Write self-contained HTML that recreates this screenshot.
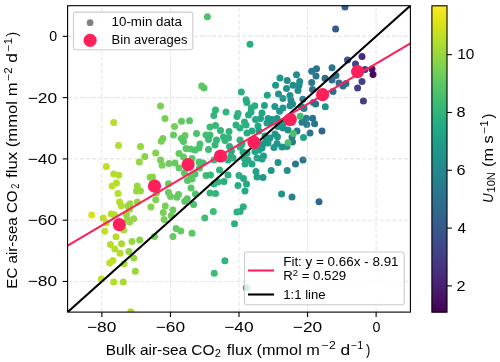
<!DOCTYPE html><html><head><meta charset="utf-8"><style>html,body{margin:0;padding:0;background:#fff;}svg{display:block;will-change:transform;}text{font-family:"Liberation Sans",sans-serif;fill:#000;}</style></head><body>
<svg width="500" height="362" viewBox="0 0 500 362">
<defs><clipPath id="ax"><rect x="67.60" y="5.70" width="342.80" height="306.40"/></clipPath>
<linearGradient id="vg" x1="0" y1="1" x2="0" y2="0">
<stop offset="0.0000" stop-color="#440154"/>
<stop offset="0.0312" stop-color="#470d60"/>
<stop offset="0.0625" stop-color="#48186a"/>
<stop offset="0.0938" stop-color="#482374"/>
<stop offset="0.1250" stop-color="#472d7b"/>
<stop offset="0.1562" stop-color="#453781"/>
<stop offset="0.1875" stop-color="#424086"/>
<stop offset="0.2188" stop-color="#3e4989"/>
<stop offset="0.2500" stop-color="#3b528b"/>
<stop offset="0.2812" stop-color="#375b8d"/>
<stop offset="0.3125" stop-color="#33638d"/>
<stop offset="0.3438" stop-color="#2f6b8e"/>
<stop offset="0.3750" stop-color="#2c728e"/>
<stop offset="0.4062" stop-color="#297a8e"/>
<stop offset="0.4375" stop-color="#26828e"/>
<stop offset="0.4688" stop-color="#23898e"/>
<stop offset="0.5000" stop-color="#21918c"/>
<stop offset="0.5312" stop-color="#1f988b"/>
<stop offset="0.5625" stop-color="#1fa088"/>
<stop offset="0.5938" stop-color="#22a785"/>
<stop offset="0.6250" stop-color="#28ae80"/>
<stop offset="0.6562" stop-color="#32b67a"/>
<stop offset="0.6875" stop-color="#3fbc73"/>
<stop offset="0.7188" stop-color="#4ec36b"/>
<stop offset="0.7500" stop-color="#5ec962"/>
<stop offset="0.7812" stop-color="#70cf57"/>
<stop offset="0.8125" stop-color="#84d44b"/>
<stop offset="0.8438" stop-color="#98d83e"/>
<stop offset="0.8750" stop-color="#addc30"/>
<stop offset="0.9062" stop-color="#c2df23"/>
<stop offset="0.9375" stop-color="#d8e219"/>
<stop offset="0.9688" stop-color="#ece51b"/>
<stop offset="1.0000" stop-color="#fde725"/>
</linearGradient></defs>
<rect width="500" height="362" fill="#fff"/>
<g clip-path="url(#ax)">
<circle cx="207.4" cy="16.8" r="3.5" fill="#4cc26c"/>
<circle cx="250.0" cy="44.2" r="3.5" fill="#2ab07f"/>
<circle cx="335.6" cy="29.0" r="3.5" fill="#375a8c"/>
<circle cx="345.0" cy="7.0" r="3.5" fill="#355f8d"/>
<circle cx="316.5" cy="68.8" r="3.5" fill="#2c738e"/>
<circle cx="311.7" cy="71.2" r="3.5" fill="#2a788e"/>
<circle cx="332.0" cy="67.8" r="3.5" fill="#2c738e"/>
<circle cx="362.0" cy="56.5" r="3.5" fill="#472a7a"/>
<circle cx="347.5" cy="60.0" r="3.5" fill="#3b528b"/>
<circle cx="355.5" cy="64.0" r="3.5" fill="#414487"/>
<circle cx="372.0" cy="69.0" r="3.5" fill="#471365"/>
<circle cx="365.0" cy="69.5" r="3.5" fill="#433e85"/>
<circle cx="373.0" cy="74.5" r="3.5" fill="#46085c"/>
<circle cx="325.0" cy="78.3" r="3.5" fill="#2f6c8e"/>
<circle cx="336.0" cy="75.5" r="3.5" fill="#2f6c8e"/>
<circle cx="332.0" cy="80.0" r="3.5" fill="#2f6c8e"/>
<circle cx="339.0" cy="83.0" r="3.5" fill="#2f6c8e"/>
<circle cx="346.0" cy="83.5" r="3.5" fill="#2f6c8e"/>
<circle cx="343.0" cy="86.0" r="3.5" fill="#2f6c8e"/>
<circle cx="362.0" cy="81.5" r="3.5" fill="#414487"/>
<circle cx="357.6" cy="88.0" r="3.5" fill="#433e85"/>
<circle cx="333.0" cy="91.6" r="3.5" fill="#2f6c8e"/>
<circle cx="363.4" cy="101.0" r="3.5" fill="#433e85"/>
<circle cx="316.0" cy="76.0" r="3.5" fill="#2c738e"/>
<circle cx="296.5" cy="74.7" r="3.5" fill="#228d8d"/>
<circle cx="280.0" cy="78.0" r="3.5" fill="#1f988b"/>
<circle cx="287.2" cy="80.4" r="3.5" fill="#228d8d"/>
<circle cx="299.7" cy="81.6" r="3.5" fill="#228d8d"/>
<circle cx="275.6" cy="85.3" r="3.5" fill="#1f988b"/>
<circle cx="293.0" cy="85.3" r="3.5" fill="#228d8d"/>
<circle cx="286.5" cy="88.4" r="3.5" fill="#20938c"/>
<circle cx="299.0" cy="85.6" r="3.5" fill="#228d8d"/>
<circle cx="298.0" cy="90.4" r="3.5" fill="#228d8d"/>
<circle cx="311.7" cy="82.4" r="3.5" fill="#2a788e"/>
<circle cx="312.5" cy="89.6" r="3.5" fill="#2c738e"/>
<circle cx="267.3" cy="95.3" r="3.5" fill="#20a486"/>
<circle cx="278.5" cy="94.0" r="3.5" fill="#1f988b"/>
<circle cx="282.9" cy="98.5" r="3.5" fill="#1f988b"/>
<circle cx="290.0" cy="95.6" r="3.5" fill="#228d8d"/>
<circle cx="290.9" cy="100.0" r="3.5" fill="#228d8d"/>
<circle cx="302.9" cy="99.3" r="3.5" fill="#287d8e"/>
<circle cx="313.3" cy="102.5" r="3.5" fill="#2c738e"/>
<circle cx="315.7" cy="104.0" r="3.5" fill="#2c738e"/>
<circle cx="325.3" cy="106.8" r="3.5" fill="#20928c"/>
<circle cx="254.8" cy="105.7" r="3.5" fill="#2ab07f"/>
<circle cx="264.4" cy="105.4" r="3.5" fill="#20a486"/>
<circle cx="274.8" cy="106.5" r="3.5" fill="#1f988b"/>
<circle cx="282.9" cy="108.0" r="3.5" fill="#1f988b"/>
<circle cx="279.6" cy="111.3" r="3.5" fill="#1f988b"/>
<circle cx="290.0" cy="105.7" r="3.5" fill="#228d8d"/>
<circle cx="292.5" cy="104.0" r="3.5" fill="#228d8d"/>
<circle cx="251.3" cy="108.0" r="3.5" fill="#2ab07f"/>
<circle cx="262.0" cy="113.0" r="3.5" fill="#20a486"/>
<circle cx="301.3" cy="106.5" r="3.5" fill="#228d8d"/>
<circle cx="201.7" cy="86.0" r="3.5" fill="#58c765"/>
<circle cx="204.0" cy="88.1" r="3.5" fill="#58c765"/>
<circle cx="241.3" cy="92.1" r="3.5" fill="#2ab07f"/>
<circle cx="246.1" cy="99.7" r="3.5" fill="#25ac82"/>
<circle cx="246.9" cy="102.5" r="3.5" fill="#25ac82"/>
<circle cx="215.5" cy="110.0" r="3.5" fill="#31b57b"/>
<circle cx="213.8" cy="115.5" r="3.5" fill="#31b57b"/>
<circle cx="181.5" cy="121.2" r="3.5" fill="#63cb5f"/>
<circle cx="189.5" cy="120.8" r="3.5" fill="#58c765"/>
<circle cx="174.5" cy="126.5" r="3.5" fill="#75d054"/>
<circle cx="173.5" cy="134.9" r="3.5" fill="#63cb5f"/>
<circle cx="185.0" cy="135.4" r="3.5" fill="#63cb5f"/>
<circle cx="196.5" cy="133.4" r="3.5" fill="#4cc26c"/>
<circle cx="226.0" cy="112.0" r="3.5" fill="#31b57b"/>
<circle cx="238.0" cy="113.5" r="3.5" fill="#2ab07f"/>
<circle cx="237.0" cy="116.5" r="3.5" fill="#2ab07f"/>
<circle cx="251.0" cy="112.0" r="3.5" fill="#25ac82"/>
<circle cx="248.5" cy="115.0" r="3.5" fill="#25ac82"/>
<circle cx="260.5" cy="118.5" r="3.5" fill="#20a486"/>
<circle cx="255.5" cy="119.5" r="3.5" fill="#23a983"/>
<circle cx="268.0" cy="118.5" r="3.5" fill="#1f9e89"/>
<circle cx="236.0" cy="125.0" r="3.5" fill="#2ab07f"/>
<circle cx="244.5" cy="122.0" r="3.5" fill="#2ab07f"/>
<circle cx="246.0" cy="125.0" r="3.5" fill="#2ab07f"/>
<circle cx="240.0" cy="128.0" r="3.5" fill="#2ab07f"/>
<circle cx="258.0" cy="126.0" r="3.5" fill="#23a983"/>
<circle cx="252.0" cy="131.0" r="3.5" fill="#23a983"/>
<circle cx="247.0" cy="133.0" r="3.5" fill="#25ac82"/>
<circle cx="267.0" cy="123.0" r="3.5" fill="#1f9e89"/>
<circle cx="304.0" cy="108.5" r="3.5" fill="#287d8e"/>
<circle cx="272.0" cy="119.5" r="3.5" fill="#1f988b"/>
<circle cx="277.0" cy="118.5" r="3.5" fill="#1f988b"/>
<circle cx="271.0" cy="122.5" r="3.5" fill="#1f988b"/>
<circle cx="278.0" cy="126.5" r="3.5" fill="#20938c"/>
<circle cx="283.0" cy="128.0" r="3.5" fill="#20938c"/>
<circle cx="283.0" cy="124.0" r="3.5" fill="#20938c"/>
<circle cx="288.0" cy="130.0" r="3.5" fill="#228d8d"/>
<circle cx="297.0" cy="131.0" r="3.5" fill="#2a788e"/>
<circle cx="310.0" cy="133.0" r="3.5" fill="#2c738e"/>
<circle cx="275.0" cy="134.0" r="3.5" fill="#1f988b"/>
<circle cx="322.0" cy="131.0" r="3.5" fill="#31678e"/>
<circle cx="113.7" cy="122.4" r="3.5" fill="#b5de2b"/>
<circle cx="160.5" cy="106.1" r="3.5" fill="#7ad151"/>
<circle cx="165.0" cy="118.4" r="3.5" fill="#75d054"/>
<circle cx="162.9" cy="138.5" r="3.5" fill="#75d054"/>
<circle cx="161.3" cy="141.3" r="3.5" fill="#75d054"/>
<circle cx="118.5" cy="145.4" r="3.5" fill="#b5de2b"/>
<circle cx="140.5" cy="146.5" r="3.5" fill="#95d840"/>
<circle cx="155.7" cy="152.9" r="3.5" fill="#81d34d"/>
<circle cx="144.8" cy="156.4" r="3.5" fill="#86d549"/>
<circle cx="160.5" cy="159.9" r="3.5" fill="#75d054"/>
<circle cx="139.4" cy="162.0" r="3.5" fill="#95d840"/>
<circle cx="162.1" cy="165.2" r="3.5" fill="#75d054"/>
<circle cx="106.3" cy="166.5" r="3.5" fill="#c2df23"/>
<circle cx="113.7" cy="174.0" r="3.5" fill="#b5de2b"/>
<circle cx="118.8" cy="175.3" r="3.5" fill="#b5de2b"/>
<circle cx="116.4" cy="182.9" r="3.5" fill="#b5de2b"/>
<circle cx="112.1" cy="186.1" r="3.5" fill="#bddf26"/>
<circle cx="150.1" cy="177.2" r="3.5" fill="#86d549"/>
<circle cx="152.5" cy="177.0" r="3.5" fill="#86d549"/>
<circle cx="137.3" cy="186.1" r="3.5" fill="#95d840"/>
<circle cx="136.5" cy="190.9" r="3.5" fill="#95d840"/>
<circle cx="140.5" cy="190.9" r="3.5" fill="#95d840"/>
<circle cx="118.0" cy="193.6" r="3.5" fill="#b5de2b"/>
<circle cx="156.5" cy="193.0" r="3.5" fill="#81d34d"/>
<circle cx="168.5" cy="183.7" r="3.5" fill="#63cb5f"/>
<circle cx="168.5" cy="192.5" r="3.5" fill="#63cb5f"/>
<circle cx="119.6" cy="202.1" r="3.5" fill="#b5de2b"/>
<circle cx="121.3" cy="205.8" r="3.5" fill="#b5de2b"/>
<circle cx="130.0" cy="203.7" r="3.5" fill="#95d840"/>
<circle cx="137.3" cy="202.1" r="3.5" fill="#95d840"/>
<circle cx="155.7" cy="199.7" r="3.5" fill="#81d34d"/>
<circle cx="150.9" cy="206.9" r="3.5" fill="#86d549"/>
<circle cx="165.3" cy="206.1" r="3.5" fill="#75d054"/>
<circle cx="181.5" cy="138.5" r="3.5" fill="#58c765"/>
<circle cx="183.5" cy="141.5" r="3.5" fill="#58c765"/>
<circle cx="200.0" cy="144.0" r="3.5" fill="#4cc26c"/>
<circle cx="186.0" cy="148.5" r="3.5" fill="#58c765"/>
<circle cx="190.5" cy="149.0" r="3.5" fill="#58c765"/>
<circle cx="195.0" cy="150.0" r="3.5" fill="#4cc26c"/>
<circle cx="199.0" cy="148.0" r="3.5" fill="#4cc26c"/>
<circle cx="179.0" cy="153.5" r="3.5" fill="#63cb5f"/>
<circle cx="183.5" cy="157.0" r="3.5" fill="#63cb5f"/>
<circle cx="192.0" cy="158.5" r="3.5" fill="#58c765"/>
<circle cx="169.0" cy="163.5" r="3.5" fill="#69cd5b"/>
<circle cx="175.0" cy="163.0" r="3.5" fill="#63cb5f"/>
<circle cx="199.0" cy="162.0" r="3.5" fill="#4cc26c"/>
<circle cx="203.0" cy="163.0" r="3.5" fill="#46c06f"/>
<circle cx="214.0" cy="160.0" r="3.5" fill="#38b977"/>
<circle cx="259.0" cy="131.0" r="3.5" fill="#20a486"/>
<circle cx="240.0" cy="140.0" r="3.5" fill="#2ab07f"/>
<circle cx="242.0" cy="144.0" r="3.5" fill="#2ab07f"/>
<circle cx="240.0" cy="147.0" r="3.5" fill="#2ab07f"/>
<circle cx="231.5" cy="151.0" r="3.5" fill="#2ab07f"/>
<circle cx="231.0" cy="156.0" r="3.5" fill="#2ab07f"/>
<circle cx="233.0" cy="158.0" r="3.5" fill="#2ab07f"/>
<circle cx="228.0" cy="160.0" r="3.5" fill="#2ab07f"/>
<circle cx="243.0" cy="152.0" r="3.5" fill="#25ac82"/>
<circle cx="247.0" cy="153.0" r="3.5" fill="#25ac82"/>
<circle cx="255.0" cy="151.5" r="3.5" fill="#20a486"/>
<circle cx="259.0" cy="150.0" r="3.5" fill="#20a486"/>
<circle cx="262.0" cy="148.0" r="3.5" fill="#1f988b"/>
<circle cx="263.0" cy="144.0" r="3.5" fill="#1f988b"/>
<circle cx="244.0" cy="158.0" r="3.5" fill="#25ac82"/>
<circle cx="248.0" cy="160.0" r="3.5" fill="#25ac82"/>
<circle cx="257.0" cy="158.0" r="3.5" fill="#20a486"/>
<circle cx="262.0" cy="159.0" r="3.5" fill="#1f9e89"/>
<circle cx="252.0" cy="164.0" r="3.5" fill="#22a785"/>
<circle cx="245.0" cy="164.0" r="3.5" fill="#25ac82"/>
<circle cx="303.5" cy="137.5" r="3.5" fill="#20a486"/>
<circle cx="270.0" cy="138.0" r="3.5" fill="#1f988b"/>
<circle cx="265.0" cy="136.0" r="3.5" fill="#1f9e89"/>
<circle cx="268.0" cy="143.0" r="3.5" fill="#1f988b"/>
<circle cx="277.0" cy="143.5" r="3.5" fill="#1f988b"/>
<circle cx="274.0" cy="147.5" r="3.5" fill="#1f988b"/>
<circle cx="282.0" cy="147.0" r="3.5" fill="#20938c"/>
<circle cx="287.0" cy="146.5" r="3.5" fill="#20928c"/>
<circle cx="292.5" cy="142.0" r="3.5" fill="#287d8e"/>
<circle cx="292.0" cy="137.0" r="3.5" fill="#287d8e"/>
<circle cx="263.5" cy="156.0" r="3.5" fill="#1f9e89"/>
<circle cx="303.0" cy="160.0" r="3.5" fill="#2c738e"/>
<circle cx="278.0" cy="162.5" r="3.5" fill="#20938c"/>
<circle cx="295.5" cy="164.0" r="3.5" fill="#2a788e"/>
<circle cx="219.5" cy="170.0" r="3.5" fill="#31b57b"/>
<circle cx="228.0" cy="175.0" r="3.5" fill="#2ab07f"/>
<circle cx="218.0" cy="182.0" r="3.5" fill="#31b57b"/>
<circle cx="224.0" cy="181.5" r="3.5" fill="#2ab07f"/>
<circle cx="215.5" cy="193.5" r="3.5" fill="#31b57b"/>
<circle cx="239.0" cy="175.5" r="3.5" fill="#25ac82"/>
<circle cx="243.5" cy="178.5" r="3.5" fill="#25ac82"/>
<circle cx="246.5" cy="184.0" r="3.5" fill="#23a983"/>
<circle cx="238.0" cy="185.5" r="3.5" fill="#25ac82"/>
<circle cx="245.0" cy="191.0" r="3.5" fill="#23a983"/>
<circle cx="256.0" cy="171.5" r="3.5" fill="#20a486"/>
<circle cx="257.0" cy="177.0" r="3.5" fill="#1fa088"/>
<circle cx="263.0" cy="177.5" r="3.5" fill="#1f988b"/>
<circle cx="179.0" cy="168.0" r="3.5" fill="#63cb5f"/>
<circle cx="184.5" cy="173.0" r="3.5" fill="#58c765"/>
<circle cx="199.5" cy="168.0" r="3.5" fill="#4cc26c"/>
<circle cx="195.0" cy="174.0" r="3.5" fill="#4cc26c"/>
<circle cx="191.0" cy="176.0" r="3.5" fill="#58c765"/>
<circle cx="187.5" cy="180.5" r="3.5" fill="#58c765"/>
<circle cx="192.0" cy="179.0" r="3.5" fill="#58c765"/>
<circle cx="206.0" cy="175.5" r="3.5" fill="#3dbc74"/>
<circle cx="210.5" cy="175.0" r="3.5" fill="#38b977"/>
<circle cx="191.0" cy="188.0" r="3.5" fill="#58c765"/>
<circle cx="178.5" cy="194.5" r="3.5" fill="#63cb5f"/>
<circle cx="195.5" cy="194.0" r="3.5" fill="#4cc26c"/>
<circle cx="210.0" cy="193.0" r="3.5" fill="#35b779"/>
<circle cx="214.0" cy="184.0" r="3.5" fill="#31b57b"/>
<circle cx="271.2" cy="170.4" r="3.5" fill="#1f988b"/>
<circle cx="287.2" cy="170.4" r="3.5" fill="#228d8d"/>
<circle cx="281.6" cy="194.1" r="3.5" fill="#20938c"/>
<circle cx="292.0" cy="196.9" r="3.5" fill="#27808e"/>
<circle cx="319.0" cy="201.7" r="3.5" fill="#31678e"/>
<circle cx="187.2" cy="198.8" r="3.5" fill="#58c765"/>
<circle cx="184.8" cy="201.2" r="3.5" fill="#58c765"/>
<circle cx="193.6" cy="204.4" r="3.5" fill="#4cc26c"/>
<circle cx="213.3" cy="211.6" r="3.5" fill="#3dbc74"/>
<circle cx="204.8" cy="218.0" r="3.5" fill="#40bd72"/>
<circle cx="243.3" cy="206.8" r="3.5" fill="#2ab07f"/>
<circle cx="236.9" cy="212.1" r="3.5" fill="#2ab07f"/>
<circle cx="240.1" cy="211.6" r="3.5" fill="#2ab07f"/>
<circle cx="234.5" cy="223.7" r="3.5" fill="#2ab07f"/>
<circle cx="180.8" cy="230.9" r="3.5" fill="#63cb5f"/>
<circle cx="192.0" cy="233.3" r="3.5" fill="#58c765"/>
<circle cx="128.0" cy="206.0" r="3.5" fill="#95d840"/>
<circle cx="129.6" cy="209.2" r="3.5" fill="#95d840"/>
<circle cx="111.2" cy="214.0" r="3.5" fill="#b5de2b"/>
<circle cx="114.4" cy="214.8" r="3.5" fill="#b5de2b"/>
<circle cx="103.2" cy="218.0" r="3.5" fill="#c2df23"/>
<circle cx="106.4" cy="222.9" r="3.5" fill="#c2df23"/>
<circle cx="126.4" cy="214.8" r="3.5" fill="#95d840"/>
<circle cx="127.2" cy="219.6" r="3.5" fill="#95d840"/>
<circle cx="129.6" cy="222.0" r="3.5" fill="#95d840"/>
<circle cx="133.7" cy="218.8" r="3.5" fill="#95d840"/>
<circle cx="123.7" cy="230.0" r="3.5" fill="#a2da37"/>
<circle cx="104.8" cy="231.3" r="3.5" fill="#c2df23"/>
<circle cx="116.0" cy="236.8" r="3.5" fill="#b5de2b"/>
<circle cx="110.4" cy="244.5" r="3.5" fill="#b5de2b"/>
<circle cx="121.6" cy="243.7" r="3.5" fill="#a8db34"/>
<circle cx="132.0" cy="241.6" r="3.5" fill="#95d840"/>
<circle cx="139.7" cy="240.0" r="3.5" fill="#86d549"/>
<circle cx="154.5" cy="236.5" r="3.5" fill="#75d054"/>
<circle cx="170.5" cy="196.4" r="3.5" fill="#69cd5b"/>
<circle cx="176.9" cy="197.2" r="3.5" fill="#63cb5f"/>
<circle cx="163.3" cy="212.4" r="3.5" fill="#75d054"/>
<circle cx="164.1" cy="219.6" r="3.5" fill="#75d054"/>
<circle cx="172.9" cy="210.0" r="3.5" fill="#69cd5b"/>
<circle cx="171.3" cy="215.6" r="3.5" fill="#69cd5b"/>
<circle cx="176.1" cy="228.5" r="3.5" fill="#63cb5f"/>
<circle cx="172.9" cy="236.5" r="3.5" fill="#63cb5f"/>
<circle cx="91.7" cy="214.9" r="3.5" fill="#d8e219"/>
<circle cx="114.8" cy="248.9" r="3.5" fill="#b5de2b"/>
<circle cx="120.1" cy="253.2" r="3.5" fill="#b5de2b"/>
<circle cx="128.9" cy="251.6" r="3.5" fill="#95d840"/>
<circle cx="133.7" cy="258.0" r="3.5" fill="#95d840"/>
<circle cx="109.7" cy="262.9" r="3.5" fill="#bddf26"/>
<circle cx="112.9" cy="260.4" r="3.5" fill="#bddf26"/>
<circle cx="124.1" cy="263.7" r="3.5" fill="#a8db34"/>
<circle cx="135.3" cy="271.3" r="3.5" fill="#95d840"/>
<circle cx="101.3" cy="278.9" r="3.5" fill="#c2df23"/>
<circle cx="113.7" cy="282.1" r="3.5" fill="#b5de2b"/>
<circle cx="123.3" cy="282.1" r="3.5" fill="#a8db34"/>
<circle cx="130.8" cy="311.8" r="3.5" fill="#b5de2b"/>
<circle cx="214.2" cy="273.3" r="3.5" fill="#3dbc74"/>
<circle cx="224.9" cy="260.7" r="3.5" fill="#31b57b"/>
<circle cx="246.3" cy="287.8" r="3.5" fill="#20a486"/>
<circle cx="306.3" cy="118.3" r="3.5" fill="#287d8e"/>
<circle cx="301.9" cy="122.2" r="3.5" fill="#287d8e"/>
<circle cx="306.8" cy="124.4" r="3.5" fill="#287d8e"/>
<circle cx="312.6" cy="118.3" r="3.5" fill="#2c738e"/>
<circle cx="314.6" cy="123.8" r="3.5" fill="#2c738e"/>
<circle cx="277.5" cy="136.7" r="3.5" fill="#1f988b"/>
<circle cx="266.0" cy="141.5" r="3.5" fill="#1f988b"/>
<circle cx="210.0" cy="127.0" r="3.5" fill="#3dbc74"/>
<circle cx="215.5" cy="125.5" r="3.5" fill="#38b977"/>
<circle cx="220.5" cy="130.5" r="3.5" fill="#35b779"/>
<circle cx="229.0" cy="131.5" r="3.5" fill="#31b57b"/>
<circle cx="206.0" cy="135.0" r="3.5" fill="#40bd72"/>
<circle cx="210.0" cy="135.0" r="3.5" fill="#40bd72"/>
<circle cx="208.5" cy="139.5" r="3.5" fill="#3dbc74"/>
<circle cx="216.5" cy="140.0" r="3.5" fill="#35b779"/>
<circle cx="223.5" cy="137.0" r="3.5" fill="#31b57b"/>
<circle cx="228.5" cy="138.0" r="3.5" fill="#31b57b"/>
<circle cx="225.0" cy="140.5" r="3.5" fill="#31b57b"/>
<circle cx="215.0" cy="145.0" r="3.5" fill="#35b779"/>
<circle cx="208.5" cy="149.5" r="3.5" fill="#3dbc74"/>
<circle cx="229.5" cy="146.5" r="3.5" fill="#2ab07f"/>
<circle cx="293.3" cy="133.6" r="3.5" fill="#4cc26c"/>
<circle cx="288.0" cy="142.8" r="3.5" fill="#4cc26c"/>
<circle cx="300.2" cy="116.3" r="3.5" fill="#40bd72"/>
<line x1="101.88" y1="312.10" x2="101.88" y2="5.70" stroke="#b0b0b0" stroke-opacity="0.31" stroke-width="1.1" stroke-dasharray="4.28 1.85"/>
<line x1="67.60" y1="281.46" x2="410.40" y2="281.46" stroke="#b0b0b0" stroke-opacity="0.31" stroke-width="1.1" stroke-dasharray="4.2 1.8" stroke-dashoffset="-0.4"/>
<line x1="170.44" y1="312.10" x2="170.44" y2="5.70" stroke="#b0b0b0" stroke-opacity="0.31" stroke-width="1.1" stroke-dasharray="4.28 1.85"/>
<line x1="67.60" y1="220.18" x2="410.40" y2="220.18" stroke="#b0b0b0" stroke-opacity="0.31" stroke-width="1.1" stroke-dasharray="4.2 1.8" stroke-dashoffset="-0.4"/>
<line x1="239.00" y1="312.10" x2="239.00" y2="5.70" stroke="#b0b0b0" stroke-opacity="0.31" stroke-width="1.1" stroke-dasharray="4.28 1.85"/>
<line x1="67.60" y1="158.90" x2="410.40" y2="158.90" stroke="#b0b0b0" stroke-opacity="0.31" stroke-width="1.1" stroke-dasharray="4.2 1.8" stroke-dashoffset="-0.4"/>
<line x1="307.56" y1="312.10" x2="307.56" y2="5.70" stroke="#b0b0b0" stroke-opacity="0.31" stroke-width="1.1" stroke-dasharray="4.28 1.85"/>
<line x1="67.60" y1="97.62" x2="410.40" y2="97.62" stroke="#b0b0b0" stroke-opacity="0.31" stroke-width="1.1" stroke-dasharray="4.2 1.8" stroke-dashoffset="-0.4"/>
<line x1="376.12" y1="312.10" x2="376.12" y2="5.70" stroke="#b0b0b0" stroke-opacity="0.31" stroke-width="1.1" stroke-dasharray="4.28 1.85"/>
<line x1="67.60" y1="36.34" x2="410.40" y2="36.34" stroke="#b0b0b0" stroke-opacity="0.31" stroke-width="1.1" stroke-dasharray="4.2 1.8" stroke-dashoffset="-0.4"/>
<line x1="67.60" y1="312.10" x2="410.40" y2="5.70" stroke="#000" stroke-width="2.1"/>
<line x1="67.60" y1="245.64" x2="410.40" y2="43.42" stroke="#ff1f5b" stroke-width="2.1"/>
<circle cx="119.3" cy="224.6" r="6.6" fill="#ff1f5b"/>
<circle cx="154.5" cy="186.0" r="6.6" fill="#ff1f5b"/>
<circle cx="188.1" cy="164.7" r="6.6" fill="#ff1f5b"/>
<circle cx="220.5" cy="156.0" r="6.6" fill="#ff1f5b"/>
<circle cx="254.0" cy="142.3" r="6.6" fill="#ff1f5b"/>
<circle cx="290.3" cy="119.5" r="6.6" fill="#ff1f5b"/>
<circle cx="322.6" cy="94.7" r="6.6" fill="#ff1f5b"/>
<circle cx="357.6" cy="71.6" r="6.6" fill="#ff1f5b"/>
</g>
<rect x="67.60" y="5.70" width="342.80" height="306.40" fill="none" stroke="#000" stroke-width="1.1"/>
<line x1="101.88" y1="312.10" x2="101.88" y2="317.00" stroke="#000" stroke-width="1.1"/>
<line x1="62.70" y1="281.46" x2="67.60" y2="281.46" stroke="#000" stroke-width="1.1"/>
<line x1="170.44" y1="312.10" x2="170.44" y2="317.00" stroke="#000" stroke-width="1.1"/>
<line x1="62.70" y1="220.18" x2="67.60" y2="220.18" stroke="#000" stroke-width="1.1"/>
<line x1="239.00" y1="312.10" x2="239.00" y2="317.00" stroke="#000" stroke-width="1.1"/>
<line x1="62.70" y1="158.90" x2="67.60" y2="158.90" stroke="#000" stroke-width="1.1"/>
<line x1="307.56" y1="312.10" x2="307.56" y2="317.00" stroke="#000" stroke-width="1.1"/>
<line x1="62.70" y1="97.62" x2="67.60" y2="97.62" stroke="#000" stroke-width="1.1"/>
<line x1="376.12" y1="312.10" x2="376.12" y2="317.00" stroke="#000" stroke-width="1.1"/>
<line x1="62.70" y1="36.34" x2="67.60" y2="36.34" stroke="#000" stroke-width="1.1"/>
<text x="87.01" y="332.10" font-size="14.6" textLength="29.40" lengthAdjust="spacingAndGlyphs">−80</text>
<text x="27.71" y="286.41" font-size="14.6" textLength="29.40" lengthAdjust="spacingAndGlyphs">−80</text>
<text x="155.76" y="332.10" font-size="14.6" textLength="29.40" lengthAdjust="spacingAndGlyphs">−60</text>
<text x="27.71" y="225.13" font-size="14.6" textLength="29.40" lengthAdjust="spacingAndGlyphs">−60</text>
<text x="224.21" y="332.10" font-size="14.6" textLength="29.40" lengthAdjust="spacingAndGlyphs">−40</text>
<text x="27.71" y="163.85" font-size="14.6" textLength="29.40" lengthAdjust="spacingAndGlyphs">−40</text>
<text x="292.86" y="332.10" font-size="14.6" textLength="29.40" lengthAdjust="spacingAndGlyphs">−20</text>
<text x="27.71" y="102.57" font-size="14.6" textLength="29.40" lengthAdjust="spacingAndGlyphs">−20</text>
<text x="372.60" y="332.10" font-size="14.6" textLength="7.92" lengthAdjust="spacingAndGlyphs">0</text>
<text x="49.30" y="41.29" font-size="14.6" textLength="7.87" lengthAdjust="spacingAndGlyphs">0</text>
<text x="105.73" y="354.60" font-size="14.4" textLength="108.79" lengthAdjust="spacingAndGlyphs">Bulk air-sea CO</text>
<text x="214.80" y="357.40" font-size="10.2" textLength="6.13" lengthAdjust="spacingAndGlyphs">2</text>
<text x="226.80" y="354.60" font-size="14.4" textLength="93.01" lengthAdjust="spacingAndGlyphs">flux (mmol m</text>
<text x="321.80" y="349.30" font-size="10.2" textLength="13.95" lengthAdjust="spacingAndGlyphs">−2</text>
<text x="340.40" y="354.60" font-size="14.4" textLength="9.62" lengthAdjust="spacingAndGlyphs">d</text>
<text x="351.00" y="349.30" font-size="10.2" textLength="12.26" lengthAdjust="spacingAndGlyphs">−1</text>
<text x="365.90" y="354.60" font-size="14.4" textLength="4.32" lengthAdjust="spacingAndGlyphs">)</text>
<text transform="rotate(-90)" x="-288.65" y="17.30" font-size="14.4" textLength="98.24" lengthAdjust="spacingAndGlyphs">EC air-sea CO</text>
<text transform="rotate(-90)" x="-188.85" y="19.40" font-size="10.2" textLength="5.10" lengthAdjust="spacingAndGlyphs">2</text>
<text transform="rotate(-90)" x="-177.90" y="17.30" font-size="14.4" textLength="95.42" lengthAdjust="spacingAndGlyphs">flux (mmol m</text>
<text transform="rotate(-90)" x="-80.40" y="12.00" font-size="10.2" textLength="13.10" lengthAdjust="spacingAndGlyphs">−2</text>
<text transform="rotate(-90)" x="-62.65" y="17.30" font-size="14.4" textLength="9.62" lengthAdjust="spacingAndGlyphs">d</text>
<text transform="rotate(-90)" x="-51.40" y="12.00" font-size="10.2" textLength="13.63" lengthAdjust="spacingAndGlyphs">−1</text>
<text transform="rotate(-90)" x="-36.50" y="17.30" font-size="14.4" textLength="4.56" lengthAdjust="spacingAndGlyphs">)</text>
<text transform="rotate(-90)" x="-202.75" y="493.40" font-size="14.4" font-style="italic" textLength="9.37" lengthAdjust="spacingAndGlyphs">U</text>
<text transform="rotate(-90)" x="-192.48" y="495.40" font-size="10.2" textLength="20.24" lengthAdjust="spacingAndGlyphs">10N</text>
<text transform="rotate(-90)" x="-167.03" y="493.40" font-size="14.4" textLength="31.61" lengthAdjust="spacingAndGlyphs">(m s</text>
<text transform="rotate(-90)" x="-133.40" y="488.40" font-size="10.2" textLength="13.10" lengthAdjust="spacingAndGlyphs">−1</text>
<text transform="rotate(-90)" x="-118.50" y="493.40" font-size="14.4" textLength="4.80" lengthAdjust="spacingAndGlyphs">)</text>
<rect x="431.90" y="5.80" width="15.10" height="306.40" fill="url(#vg)" stroke="#000" stroke-width="1.1"/>
<line x1="447.00" y1="285.90" x2="451.90" y2="285.90" stroke="#000" stroke-width="1.1"/>
<text x="456.59" y="290.70" font-size="14.6" textLength="9.05" lengthAdjust="spacingAndGlyphs">2</text>
<line x1="447.00" y1="228.08" x2="451.90" y2="228.08" stroke="#000" stroke-width="1.1"/>
<text x="457.40" y="232.88" font-size="14.6" textLength="8.53" lengthAdjust="spacingAndGlyphs">4</text>
<line x1="447.00" y1="170.27" x2="451.90" y2="170.27" stroke="#000" stroke-width="1.1"/>
<text x="456.59" y="175.07" font-size="14.6" textLength="9.05" lengthAdjust="spacingAndGlyphs">6</text>
<line x1="447.00" y1="112.46" x2="451.90" y2="112.46" stroke="#000" stroke-width="1.1"/>
<text x="456.59" y="117.26" font-size="14.6" textLength="9.05" lengthAdjust="spacingAndGlyphs">8</text>
<line x1="447.00" y1="54.65" x2="451.90" y2="54.65" stroke="#000" stroke-width="1.1"/>
<text x="457.24" y="59.45" font-size="14.6" textLength="17.21" lengthAdjust="spacingAndGlyphs">10</text>
<rect x="73.5" y="12.1" width="119.3" height="37.6" rx="2.5" fill="#fff" fill-opacity="0.8" stroke="#cccccc" stroke-width="1.1"/>
<circle cx="90.1" cy="22.7" r="3.4" fill="#808080"/>
<circle cx="90.1" cy="40.3" r="6.6" fill="#ff1f5b"/>
<text x="111.6" y="26" font-size="12.0" textLength="70.4" lengthAdjust="spacingAndGlyphs">10-min data</text>
<text x="111.6" y="44" font-size="12.0" textLength="75.9" lengthAdjust="spacingAndGlyphs">Bin averages</text>
<rect x="244.5" y="252" width="159.7" height="52.8" rx="2.5" fill="#fff" fill-opacity="0.8" stroke="#cccccc" stroke-width="1.1"/>
<line x1="248" y1="270.5" x2="274" y2="270.5" stroke="#ff1f5b" stroke-width="2.1"/>
<line x1="248" y1="294.5" x2="274" y2="294.5" stroke="#000" stroke-width="2.1"/>
<text x="283.2" y="265.7" font-size="12.0" textLength="115.4" lengthAdjust="spacingAndGlyphs">Fit: y = 0.66x - 8.91</text>
<text x="283.2" y="280" font-size="12.0" textLength="63" lengthAdjust="spacingAndGlyphs">R<tspan font-size="8.5" dy="-4.5">2</tspan><tspan dy="4.5"> = 0.529</tspan></text>
<text x="283.2" y="298.6" font-size="12.0" textLength="42.5" lengthAdjust="spacingAndGlyphs">1:1 line</text>
</svg></body></html>
